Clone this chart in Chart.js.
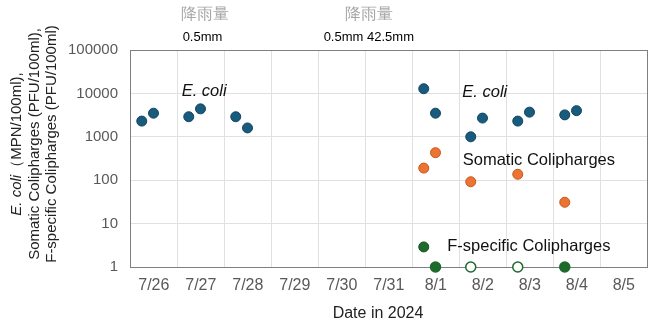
<!DOCTYPE html>
<html>
<head>
<meta charset="utf-8">
<script src="https://cdn.jsdelivr.net/npm/chart.js@4"></script>
<style>
  html, body { margin: 0; padding: 0; background: #fff; }
</style>
</head>
<body>
<canvas id="chart" width="656" height="336"></canvas>
<script>
const dates = ["7/26", "7/27", "7/28", "7/29", "7/30", "7/31", "8/1", "8/2", "8/3", "8/4", "8/5"];

// each sample: day (index into dates) and hour of the day
const sampleDay = [0, 0, 1, 1, 2, 2, 6, 6, 7, 7, 8, 8, 9, 9];
const sampleHour = [6, 12, 6, 12, 6, 12, 6, 12, 6, 12, 6, 12, 6, 12];

const ecoli = [2300, 3500, 2900, 4400, 2900, 1600, 12800, 3500, 1000, 2700, 2300, 3700, 3200, 4000];
const somatic = [null, null, null, null, null, null, 190, 430, 92, null, 137, null, 31, null];
const fSpecific = [null, null, null, null, null, null, null, 1, 1, null, 1, null, 1, null];
const fDetected = [null, null, null, null, null, null, null, true, false, null, false, null, true, null];

const rainDays = ["7/27", "7/30", "7/31"];
const rainMm = [0.5, 0.5, 42.5];

const yTicks = [1, 10, 100, 1000, 10000, 100000];

function points(values) {
  const out = [];
  values.forEach(function (v, i) {
    if (v !== null) out.push({ x: sampleDay[i] + sampleHour[i] / 24, y: v, i: i });
  });
  return out;
}

const FONT = "'Liberation Sans', Arial, sans-serif";

const textPlugin = {
  id: "textPlugin",
  afterDraw(chart) {
    const ctx = chart.ctx;
    const x = chart.scales.x;
    const y = chart.scales.y;
    const dayX = function (d) { return x.getPixelForValue(d); };

    ctx.save();
    ctx.textBaseline = "middle";

    // rainfall above the plot
    ctx.textAlign = "center";
    const rainIdx = rainDays.map(function (d) { return dates.indexOf(d); });
    ctx.font = "13px " + FONT;
    ctx.fillStyle = "#000";
    rainIdx.forEach(function (d, i) {
      ctx.fillText(rainMm[i] + "mm", dayX(d + 0.5) + 2, 37);
    });
    // one header over each run of consecutive rain days
    ctx.font = "16px " + FONT;
    ctx.fillStyle = "#a6a6a6";
    let start = 0;
    for (let i = 1; i <= rainIdx.length; i++) {
      if (i === rainIdx.length || rainIdx[i] !== rainIdx[i - 1] + 1) {
        const mid = (dayX(rainIdx[start] + 0.5) + dayX(rainIdx[i - 1] + 0.5)) / 2;
        ctx.fillText("降雨量", mid + 4, 15);
        start = i;
      }
    }

    // series labels inside the plot
    ctx.textAlign = "left";
    ctx.fillStyle = "#111";
    ctx.font = "italic 16.5px " + FONT;
    ctx.fillText("E. coli", dayX(1.1), y.getPixelForValue(11400));
    ctx.fillText("E. coli", dayX(7.07), y.getPixelForValue(10400));
    ctx.font = "16.5px " + FONT;
    ctx.fillText("Somatic Colipharges", dayX(7.08), y.getPixelForValue(290));
    ctx.fillText("F-specific Colipharges", dayX(6.75), y.getPixelForValue(2.9));
    ctx.beginPath();
    ctx.arc(dayX(6.25), y.getPixelForValue(2.9), 5, 0, Math.PI * 2);
    ctx.fillStyle = "#1d6a2c";
    ctx.fill();
    ctx.strokeStyle = "#145020";
    ctx.lineWidth = 1;
    ctx.stroke();

    // x axis title
    ctx.textAlign = "center";
    ctx.fillStyle = "#222";
    ctx.font = "16px " + FONT;
    ctx.fillText("Date in 2024", 378, 314);

    // y axis title, three rotated lines
    ctx.translate(0, 144);
    ctx.rotate(-Math.PI / 2);
    ctx.textAlign = "left";
    ctx.font = "italic 15px " + FONT;
    const ital = "E. coli";
    const rest = "（MPN/100ml),";
    const w1 = ctx.measureText(ital).width;
    ctx.font = "15px " + FONT;
    const w2 = ctx.measureText(rest).width;
    ctx.font = "italic 15px " + FONT;
    ctx.fillText(ital, -(w1 + w2) / 2, 17);
    ctx.font = "15px " + FONT;
    ctx.fillText(rest, -(w1 + w2) / 2 + w1, 17);
    ctx.textAlign = "center";
    ctx.fillText("Somatic Colipharges (PFU/100ml),", 0, 35);
    ctx.fillText("F-specific Colipharges (PFU/100ml)", 0, 52);
    ctx.restore();
  }
};

const common = {
  pointRadius: 5,
  pointHoverRadius: 5,
  pointBorderWidth: 1,
  clip: false,
};

const data = {
  datasets: [
    Object.assign({
      label: "E. coli",
      data: points(ecoli),
      backgroundColor: "#195b7d",
      borderColor: "#0f4562",
    }, common),
    Object.assign({
      label: "Somatic Colipharges",
      data: points(somatic),
      backgroundColor: "#ec7331",
      borderColor: "#c3591c",
    }, common),
    Object.assign({
      label: "F-specific Colipharges",
      data: points(fSpecific),
      backgroundColor: function (c) {
        const p = c.raw;
        return p && fDetected[p.i] ? "#1d6a2c" : "#ffffff";
      },
      borderColor: "#1d6a2c",
      pointBorderWidth: 1.5,
    }, { pointRadius: 5, pointHoverRadius: 5, clip: false }),
  ],
};

const config = {
  type: "scatter",
  data: data,
  options: {
    responsive: false,
    animation: false,
    devicePixelRatio: 1,
    layout: { padding: { top: 50, right: 3, left: 0, bottom: 0 } },
    plugins: {
      legend: { display: false },
      tooltip: { enabled: false },
    },
    scales: {
      x: {
        type: "linear",
        min: 0,
        max: dates.length,
        afterFit: function (scale) { scale.height = 69; },
        grid: {
          drawTicks: false,
          color: function (c) {
            return c.tick && c.tick.value === dates.length ? "#7f7f7f" : "#e0e0e0";
          },
        },
        border: { color: "#7f7f7f" },
        ticks: {
          stepSize: 1,
          autoSkip: false,
          maxRotation: 0,
          padding: 9,
          labelOffset: 23.8,
          color: "#595959",
          font: { family: FONT, size: 16 },
          callback: function (value) {
            return dates[value] || "";
          },
        },
      },
      y: {
        type: "logarithmic",
        min: 1,
        max: 100000,
        afterFit: function (scale) { scale.width = 130; },
        afterBuildTicks: function (scale) {
          scale.ticks = yTicks.map(function (v) { return { value: v }; });
        },
        grid: {
          drawTicks: false,
          color: function (c) {
            return c.tick && c.tick.value === 100000 ? "#7f7f7f" : "#e0e0e0";
          },
        },
        border: { color: "#7f7f7f" },
        ticks: {
          padding: 12,
          color: "#595959",
          font: { family: FONT, size: 15 },
          callback: function (value) {
            return String(value);
          },
        },
      },
    },
  },
  plugins: [textPlugin],
};

new Chart("chart", config);
</script>
</body>
</html>
